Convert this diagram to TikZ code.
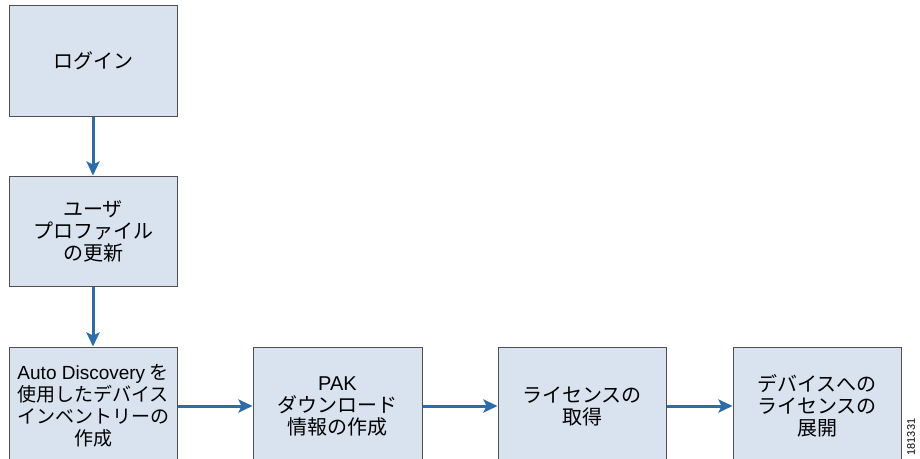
\documentclass[tikz,border=0pt]{standalone}
\usepackage{fontspec}
\setmainfont{Noto Sans CJK JP}
\newfontfamily\latfont{Liberation Sans}
\usetikzlibrary{arrows.meta}
\definecolor{boxfill}{RGB}{216,227,239}
\definecolor{boxline}{RGB}{80,80,80}
\definecolor{arrowblue}{RGB}{42,109,170}
\tikzset{
  stepbox/.style={draw=boxline, line width=1pt, fill=boxfill, minimum width=168pt,
    inner sep=0pt, align=center, font=\fontsize{20}{22}\selectfont},
  flow/.style={draw=arrowblue, line width=3pt, -{Stealth[length=14pt,width=13pt,inset=3pt]}}
}
\begin{document}
\begin{tikzpicture}[x=1pt,y=-1pt]
\useasboundingbox (0,0) rectangle (920,458);
\node[stepbox, minimum height=111pt] (b1) at (93,60.5) {ログイン};
\node[stepbox, minimum height=110pt] (b2) at (93,231) {ユーザ\\プロファイル\\の更新};
\node[stepbox, minimum height=118pt, font=\fontsize{19}{22}\selectfont] (b3) at (93,406) {{\latfont Auto Discovery} を\\使用したデバイス\\インベントリーの\\作成};
\node[stepbox, minimum height=118pt, minimum width=169pt] (b4) at (337.5,406) {{\latfont PAK}\\ダウンロード\\情報の作成};
\node[stepbox, minimum height=118pt] (b5) at (582,406) {ライセンスの\\取得};
\node[stepbox, minimum height=118pt] (b6) at (817,406) {デバイスへの\\ライセンスの\\展開};
\draw[flow] (b1) -- (b2);
\draw[flow] (b2) -- (b3);
\draw[flow] (b3) -- (b4);
\draw[flow] (b4) -- (b5);
\draw[flow] (b5) -- (b6);
\node[rotate=90, font=\latfont\fontsize{11}{13}\selectfont, inner sep=0pt] (id) at (911,437) {181331};
\end{tikzpicture}
\end{document}
